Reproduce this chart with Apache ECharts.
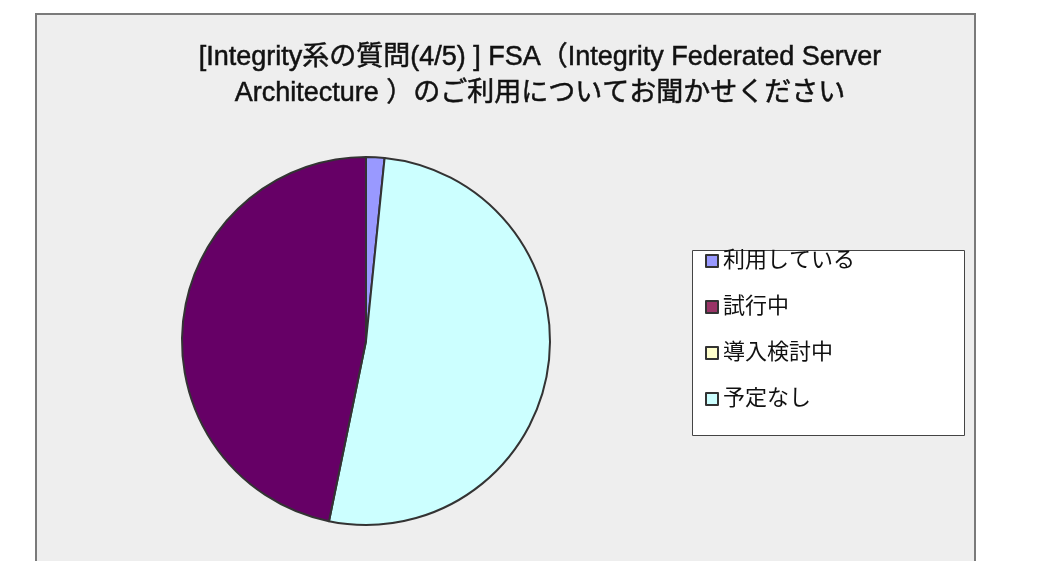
<!DOCTYPE html>
<html>
<head>
<meta charset="utf-8">
<script src="https://cdn.jsdelivr.net/npm/echarts@6/dist/echarts.min.js"></script>
<style>
  html, body { margin: 0; padding: 0; background: #fff; }
  #myChart { width: 1063px; height: 561px; }
</style>
</head>
<body>
<div id="myChart"></div>
<script>
// 凡例の順番
var legendNames = ['利用している', '試行中', '導入検討中', '予定なし'];
var legendColors = ['#9999ff', '#993366', '#ffffcc', '#ccffff'];
// 円グラフは時計回りにこの順番で描く
var sliceNames = ['利用している', '予定なし', '試行中', '導入検討中'];
var sliceValues = [1, 32, 29, 0];
var sliceColors = ['#9999ff', '#ccffff', '#660066', '#ffffcc'];

var titleText = '[Integrity系の質問(4/5) ] FSA（Integrity Federated Server\nArchitecture ）のご利用についてお聞かせください';

var font = '"Liberation Sans", "Noto Sans CJK JP", sans-serif';

var option = {
  animation: false,
  graphic: [
    {
      type: 'rect',
      z: -10,
      shape: { x: 36, y: 14, width: 939, height: 560 },
      style: { fill: '#eeeeee', stroke: '#7a7a7a', lineWidth: 2 }
    },
    {
      type: 'rect',
      z: -5,
      shape: { x: 692.5, y: 250.5, width: 272, height: 185 },
      style: { fill: '#ffffff', stroke: '#444444', lineWidth: 1 }
    }
  ],
  title: {
    text: titleText,
    left: 540,
    top: 40,
    textAlign: 'center',
    padding: 0,
    textStyle: {
      fontFamily: font,
      fontSize: 27,
      fontWeight: 'normal',
      color: '#111',
      textBorderColor: '#111',
      textBorderWidth: 0.5,
      lineHeight: 36
    }
  },
  legend: {
    orient: 'vertical',
    left: 705,
    top: 250,
    padding: 0,
    icon: 'rect',
    itemWidth: 12,
    itemHeight: 12,
    itemGap: 24,
    selectedMode: false,
    data: legendNames.map(function (n, i) {
      return { name: n, itemStyle: { color: legendColors[i], borderColor: '#333', borderWidth: 2 } };
    }),
    textStyle: {
      fontFamily: font,
      fontSize: 22,
      color: '#111',
      lineHeight: 22
    }
  },
  series: [
    {
      name: 'FSA',
      type: 'pie',
      center: [366, 341],
      radius: 184,
      startAngle: 90,
      clockwise: true,
      label: { show: false },
      labelLine: { show: false },
      emphasis: { disabled: true },
      itemStyle: { borderColor: '#333', borderWidth: 2 },
      data: sliceNames.map(function (n, i) {
        return { name: n, value: sliceValues[i], itemStyle: { color: sliceColors[i] } };
      })
    }
  ]
};

var myChart = echarts.init(document.getElementById('myChart'));
myChart.setOption(option);
</script>
</body>
</html>
